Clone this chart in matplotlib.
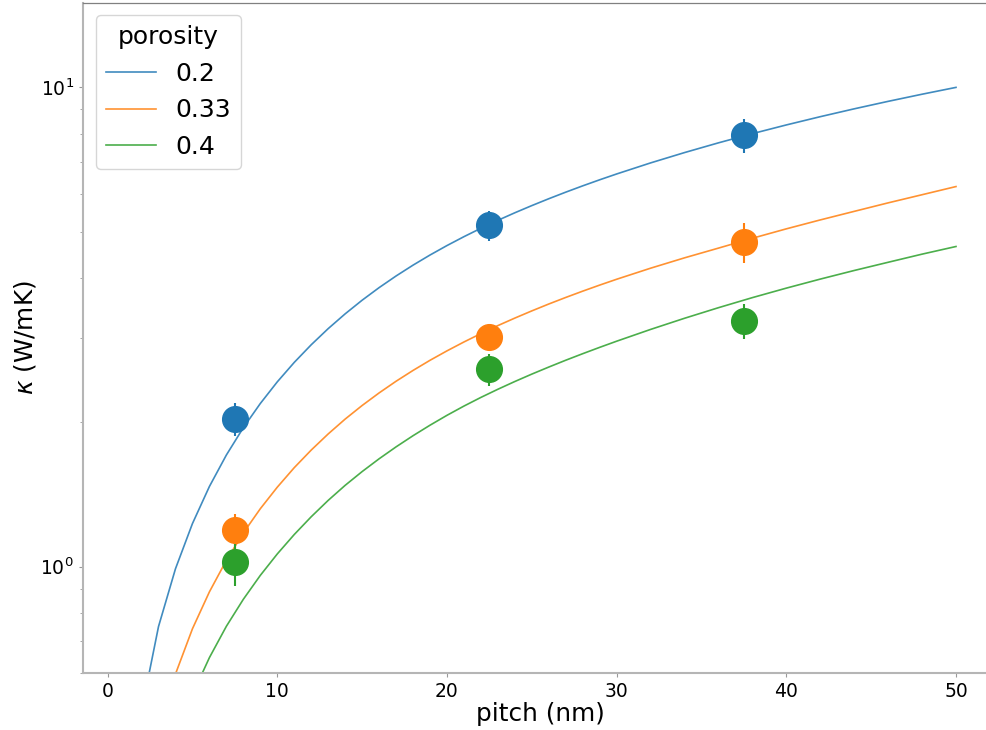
import matplotlib
matplotlib.use("Agg")
import matplotlib.pyplot as plt
from matplotlib.ticker import LogLocator, NullFormatter

# Fitted model curves (pitch in nm, kappa in W/mK)
pitch_fit = [2, 3, 4, 5, 6, 7, 8, 9, 10, 11, 12, 13, 14, 15, 16, 17, 18, 19,
             20, 21, 22, 23, 24, 25, 26, 27, 28, 29, 30, 32, 34, 36, 38, 40,
             42, 44, 46, 48, 50]
kappa_fit_02 = [0.50, 0.75, 0.99, 1.23, 1.47, 1.71, 1.95, 2.19, 2.43, 2.668,
                2.904, 3.138, 3.369, 3.597, 3.821, 4.041, 4.257, 4.469, 4.677,
                4.881, 5.082, 5.280, 5.475, 5.667, 5.857, 6.045, 6.231, 6.415,
                6.597, 6.957, 7.311, 7.661, 8.007, 8.349, 8.687, 9.021, 9.351,
                9.677, 10.0]
kappa_fit_033 = [0.30, 0.45, 0.597, 0.742, 0.886, 1.031, 1.176, 1.321, 1.465,
                 1.609, 1.751, 1.892, 2.032, 2.169, 2.304, 2.437, 2.567, 2.695,
                 2.820, 2.943, 3.064, 3.184, 3.301, 3.417, 3.532, 3.645, 3.757,
                 3.868, 3.978, 4.195, 4.409, 4.620, 4.844, 5.068, 5.290, 5.512,
                 5.742, 5.971, 6.21]
kappa_fit_04 = [0.22, 0.33, 0.44, 0.541, 0.646, 0.751, 0.855, 0.959, 1.063,
                1.167, 1.271, 1.375, 1.478, 1.579, 1.679, 1.778, 1.876, 1.973,
                2.069, 2.163, 2.255, 2.345, 2.434, 2.522, 2.609, 2.696, 2.782,
                2.868, 2.954, 3.126, 3.298, 3.470, 3.642, 3.812, 3.981, 4.149,
                4.316, 4.488, 4.656]

# Simulated points with uncertainties
pitch_pts = [7.5, 22.5, 37.5]
kappa_pts_02 = [2.03, 5.16, 7.94]
err_pts_02 = [0.16, 0.37, 0.64]
kappa_pts_033 = [1.19, 3.02, 4.76]
err_pts_033 = [0.10, 0.15, 0.46]
kappa_pts_04 = [1.023, 2.58, 3.255]
err_pts_04 = [0.11, 0.20, 0.27]

porosity_labels = ["0.2", "0.33", "0.4"]
colors = ["#1f77b4", "#ff7f0e", "#2ca02c"]

fig = plt.figure(figsize=(9.87, 7.30), dpi=100)
ax = fig.add_axes([0.0841, 0.0781, 0.9266, 0.9178])

fits = [kappa_fit_02, kappa_fit_033, kappa_fit_04]
pts = [kappa_pts_02, kappa_pts_033, kappa_pts_04]
errs = [err_pts_02, err_pts_033, err_pts_04]

for fit, p, e, lab, c in zip(fits, pts, errs, porosity_labels, colors):
    ax.plot(pitch_fit, fit, color=c, lw=1.2, alpha=0.85, label=lab, zorder=2)
    ax.errorbar(pitch_pts, p, yerr=e, fmt="o", color=c, ms=18.5,
                elinewidth=1.5, capsize=0, zorder=3)

ax.set_yscale("log")
ax.set_xlim(-1.45, 52.45)
ax.set_ylim(0.6, 15.0)
ax.set_xticks([0, 10, 20, 30, 40, 50])
ax.yaxis.set_major_locator(LogLocator(base=10))
ax.yaxis.set_minor_locator(LogLocator(base=10, subs=range(2, 10)))
ax.yaxis.set_minor_formatter(NullFormatter())

ax.tick_params(axis="both", which="major", labelsize=13.5, length=3,
               width=0.8, color="#999999")
ax.tick_params(axis="y", which="minor", length=2, width=0.6, color="#999999")

for side in ("left", "bottom"):
    ax.spines[side].set_color("#b5b5b5")
    ax.spines[side].set_linewidth(1.5)
ax.spines["top"].set_color("#808080")
ax.spines["top"].set_linewidth(0.9)
ax.spines["right"].set_visible(False)

ax.set_xlabel("pitch (nm)", fontsize=17.8, labelpad=0.8)
ax.set_ylabel(r"$\kappa$ (W/mK)", fontsize=17.8, labelpad=2.0)

leg = ax.legend(title="porosity", fontsize=18, title_fontsize=18,
                loc="upper left")

fig.savefig("out.png", dpi=100)
